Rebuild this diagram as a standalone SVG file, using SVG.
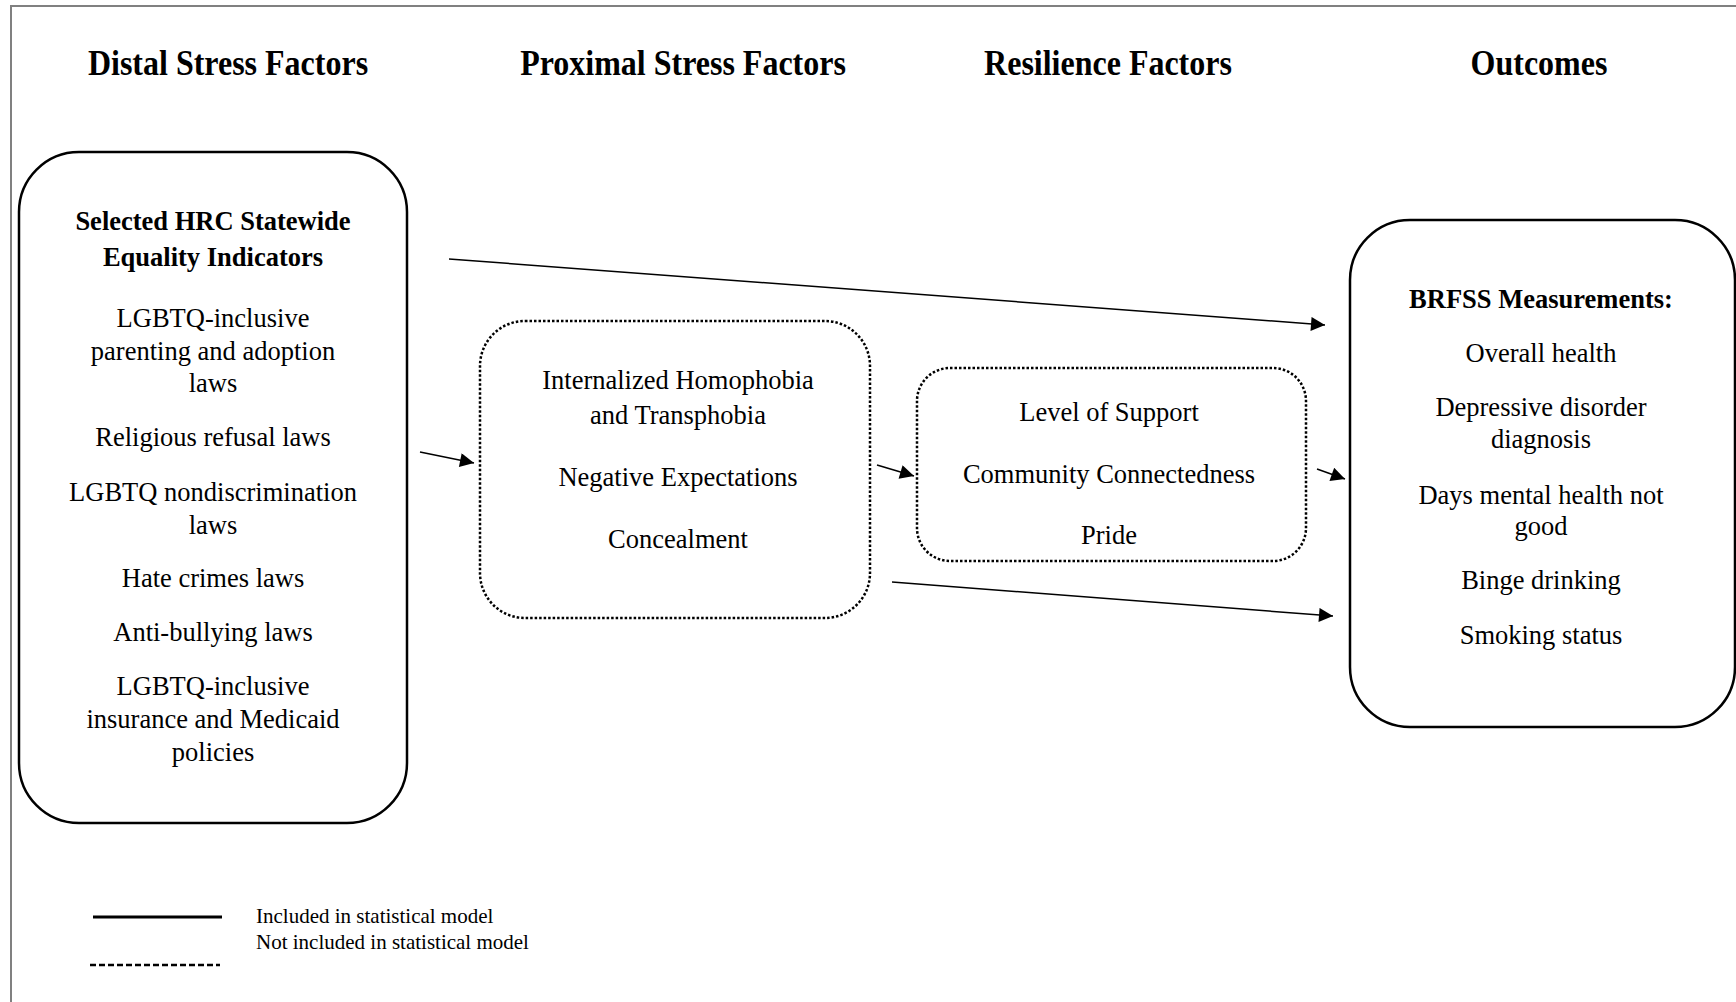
<svg xmlns="http://www.w3.org/2000/svg" width="1736" height="1002" viewBox="0 0 1736 1002">
<style>
.hdr{font-family:"Liberation Serif","Times New Roman",serif;font-weight:bold;font-size:32px;text-anchor:middle;fill:#000}
.t{font-family:"Liberation Serif","Times New Roman",serif;font-size:26.5px;text-anchor:middle;fill:#000}
.b{font-weight:bold}
.leg{font-family:"Liberation Serif","Times New Roman",serif;font-size:21px;fill:#000}
.solid{fill:#fff;stroke:#000;stroke-width:2.5}
.dotted{fill:#fff;stroke:#000;stroke-width:2.5;stroke-dasharray:2.5 2}
.conn{fill:none;stroke:#000;stroke-width:1.5;marker-end:url(#arrow)}
</style>
<defs>
<marker id="arrow" viewBox="0 0 10 10" refX="10" refY="5" markerWidth="20" markerHeight="14" markerUnits="userSpaceOnUse" orient="auto"><path d="M0,0 L10,5 L0,10 z" fill="#000"/></marker>
</defs>
<rect width="1736" height="1002" fill="#fff"/>
<path d="M11,1002 V6 H1736" fill="none" stroke="#808080" stroke-width="2"/>

<g id="headers">
<text class="hdr" transform="translate(228,75) scale(1,1.1)">Distal Stress Factors</text>
<text class="hdr" transform="translate(683,75) scale(1,1.1)">Proximal Stress Factors</text>
<text class="hdr" transform="translate(1108,75) scale(1,1.1)">Resilience Factors</text>
<text class="hdr" transform="translate(1539,75) scale(1,1.1)">Outcomes</text>
</g>

<g id="distal">
<rect class="solid" x="19" y="152" width="388" height="671" rx="60"/>
<text class="t b" x="213" y="230">Selected HRC Statewide</text>
<text class="t b" x="213" y="266">Equality Indicators</text>
<text class="t" x="213" y="327">LGBTQ-inclusive</text>
<text class="t" x="213" y="360">parenting and adoption</text>
<text class="t" x="213" y="392">laws</text>
<text class="t" x="213" y="446">Religious refusal laws</text>
<text class="t" x="213" y="501">LGBTQ nondiscrimination</text>
<text class="t" x="213" y="534">laws</text>
<text class="t" x="213" y="587">Hate crimes laws</text>
<text class="t" x="213" y="641">Anti-bullying laws</text>
<text class="t" x="213" y="695">LGBTQ-inclusive</text>
<text class="t" x="213" y="728">insurance and Medicaid</text>
<text class="t" x="213" y="761">policies</text>
</g>

<g id="proximal">
<rect class="dotted" x="480" y="321" width="390" height="297" rx="45"/>
<text class="t" x="678" y="389">Internalized Homophobia</text>
<text class="t" x="678" y="424">and Transphobia</text>
<text class="t" x="678" y="486">Negative Expectations</text>
<text class="t" x="678" y="548">Concealment</text>
</g>

<g id="resilience">
<rect class="dotted" x="917" y="368" width="389" height="193" rx="33"/>
<text class="t" x="1109" y="421">Level of Support</text>
<text class="t" x="1109" y="483">Community Connectedness</text>
<text class="t" x="1109" y="544">Pride</text>
</g>

<g id="outcomes">
<rect class="solid" x="1350" y="220" width="385" height="507" rx="60"/>
<text class="t b" x="1541" y="308">BRFSS Measurements:</text>
<text class="t" x="1541" y="362">Overall health</text>
<text class="t" x="1541" y="416">Depressive disorder</text>
<text class="t" x="1541" y="448">diagnosis</text>
<text class="t" x="1541" y="504">Days mental health not</text>
<text class="t" x="1541" y="535">good</text>
<text class="t" x="1541" y="589">Binge drinking</text>
<text class="t" x="1541" y="644">Smoking status</text>
</g>

<g id="connectors">
<line class="conn" x1="449" y1="259" x2="1325" y2="325"/>
<line class="conn" x1="420" y1="452" x2="474" y2="463"/>
<line class="conn" x1="877" y1="465" x2="914" y2="476"/>
<line class="conn" x1="1317" y1="469" x2="1345" y2="479"/>
<line class="conn" x1="892" y1="582" x2="1333" y2="616"/>
</g>

<g id="legend">
<line x1="93" y1="917" x2="222" y2="917" stroke="#000" stroke-width="3"/>
<line x1="90" y1="965" x2="220" y2="965" stroke="#000" stroke-width="2.5" stroke-dasharray="6 3"/>
<text class="leg" x="256" y="923">Included in statistical model</text>
<text class="leg" x="256" y="949">Not included in statistical model</text>
</g>
</svg>
